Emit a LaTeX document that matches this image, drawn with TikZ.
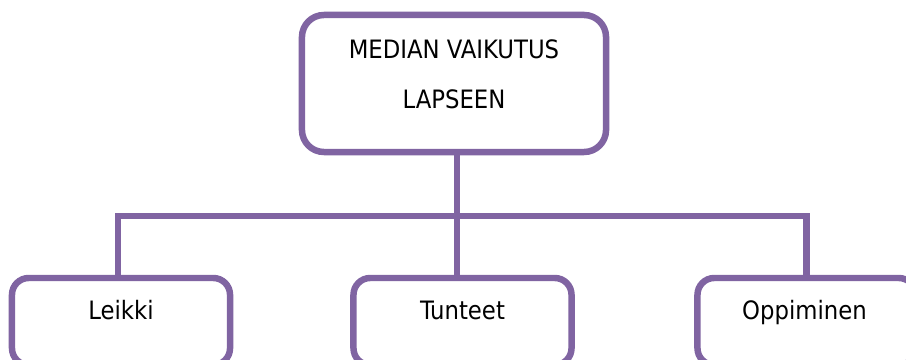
\documentclass[tikz,border=0pt]{standalone}
\usepackage{fontspec}
\setmainfont{DejaVu Sans Condensed}
\definecolor{mediapurple}{HTML}{8064A2}
\tikzset{
  box/.style={draw=mediapurple, line width=4.6pt, rounded corners=0.55cm, fill=white},
  kidbox/.style={draw=mediapurple, line width=4.6pt, rounded corners=0.42cm, fill=white,
    minimum width=5.45cm, minimum height=2.175cm},
  link/.style={draw=mediapurple, line width=4.6pt},
  txt/.style={font=\fontsize{18pt}{35.6pt}\selectfont, align=center, inner sep=0pt}
}

\begin{document}
\begin{tikzpicture}[x=0.025cm, y=-0.025cm]
  \useasboundingbox (0,0) rectangle (906,360);
  \clip (0,0) rectangle (906,360);
  \node[box, minimum width=7.6cm, minimum height=3.425cm] (media) at (454,83.5) {};
  \node[txt] (mediatext) at (454,74) {MEDIAN VAIKUTUS\\LAPSEEN};
  \node[kidbox] (leikki) at (121,321.5) {};
  \node[kidbox] (tunteet) at (462.5,321.5) {};
  \node[kidbox] (oppiminen) at (806.5,321.5) {};
  \node[txt, anchor=base] (leikkitext) at (121,319.5) {Leikki};
  \node[txt, anchor=base] (tunteettext) at (462.5,319.5) {Tunteet};
  \node[txt, anchor=base] (oppiminentext) at (804.5,319.5) {Oppiminen};
  \coordinate (bus) at (0,216);
  \coordinate (stem) at ([xshift=0.075cm]media.south);
  \draw[link] (stem) -- (stem |- tunteet.north);
  \draw[link] ([xshift=-0.075cm]leikki.north) |- (oppiminen.north |- bus) -- (oppiminen.north);
\end{tikzpicture}
\end{document}
